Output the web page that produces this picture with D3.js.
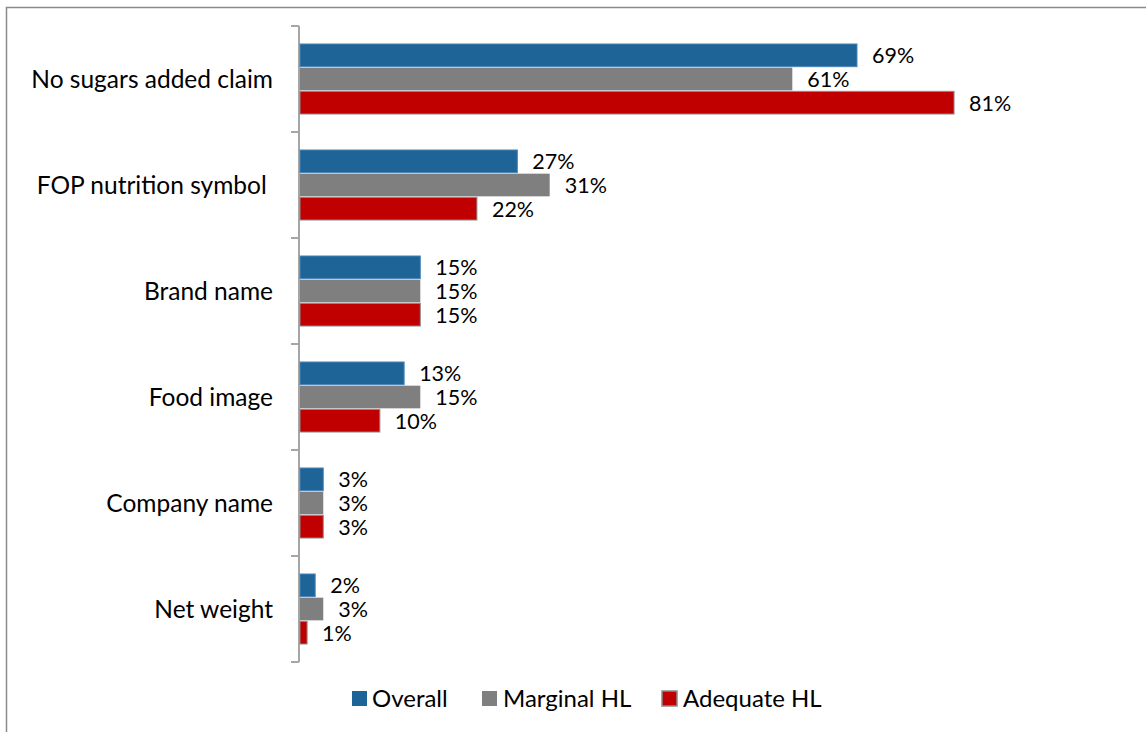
<!DOCTYPE html>
<html>
<head>
<meta charset="utf-8">
<script src="https://cdn.jsdelivr.net/npm/d3@7"></script>
<style>
  html, body { margin: 0; padding: 0; background: #fff; }
  svg { display: block; }
  text { font-family: Lato, "Liberation Sans", sans-serif; fill: #000; }
</style>
</head>
<body>
<svg id="chart" width="1146" height="732"></svg>
<script>
// Categories (top to bottom) and the three series, in percent
const categories = ["No sugars added claim", "FOP nutrition symbol ", "Brand name", "Food image", "Company name", "Net weight"];
const seriesNames = ["Overall", "Marginal HL", "Adequate HL"];
const overall = [69, 27, 15, 13, 3, 2];
const marginalHL = [61, 31, 15, 15, 3, 3];
const adequateHL = [81, 22, 15, 10, 3, 1];

const seriesValues = [overall, marginalHL, adequateHL];
const fills = ["#1F6497", "#7F7F7F", "#C00000"];
const strokes = ["#4A86B8", "#7F7F7F", "#8C8C8C"];

const svg = d3.select("#chart");

// Outer chart frame
svg.append("rect")
  .attr("x", 6.5).attr("y", 7.5)
  .attr("width", 1200).attr("height", 800)
  .attr("fill", "none")
  .attr("stroke", "#8A8A8A")
  .attr("stroke-width", 1.5);

const x0 = 299, yTop = 26, yBottom = 662;

const x = d3.scaleLinear().domain([0, 69]).range([x0, 857]);

const y = d3.scaleBand()
  .domain(categories)
  .range([yTop, yBottom])
  .paddingInner(0.33)
  .paddingOuter(0.165);

const ySub = d3.scaleBand()
  .domain(seriesNames)
  .range([0, y.bandwidth()]);

// Category axis with tick marks between groups
const step = y.step();
const tickYs = d3.range(categories.length + 1).map(i => yTop + i * step);
const axis = svg.append("g").attr("class", "axis");
axis.append("line")
  .attr("x1", x0).attr("x2", x0)
  .attr("y1", yTop).attr("y2", yBottom)
  .attr("stroke", "#A6A6A6").attr("stroke-width", 2);
axis.selectAll("line.tick").data(tickYs).enter().append("line")
  .attr("class", "tick")
  .attr("x1", x0 - 8).attr("x2", x0)
  .attr("y1", d => Math.round(d)).attr("y2", d => Math.round(d))
  .attr("stroke", "#A6A6A6").attr("stroke-width", 2);

axis.selectAll("text.cat").data(categories).enter().append("text")
  .attr("class", "cat")
  .attr("x", 273)
  .attr("y", d => y(d) + y.bandwidth() / 2 + 9)
  .attr("text-anchor", "end")
  .style("font-size", "24.5px")
  .style("white-space", "pre")
  .text(d => d.replace(/ $/, "\u00a0"));

// Bars and value labels
seriesNames.forEach((name, si) => {
  const rows = categories.map((c, i) => ({ c, v: seriesValues[si][i] }));
  const g = svg.append("g").attr("class", "series");
  g.selectAll("rect").data(rows).enter().append("rect")
    .attr("x", x0 + 1)
    .attr("y", d => y(d.c) + ySub(name) + 0.5)
    .attr("width", d => x(d.v) - x0 - 1)
    .attr("height", ySub.bandwidth() - 1)
    .attr("fill", fills[si])
    .attr("stroke", strokes[si])
    .attr("stroke-width", si === 1 ? 0 : 1);
  g.selectAll("text").data(rows).enter().append("text")
    .attr("x", d => x(d.v) + 15)
    .attr("y", d => y(d.c) + ySub(name) + ySub.bandwidth() / 2 + 8)
    .style("font-size", "21.5px")
    .text(d => d.v + "%");
});

// Legend
const legendX = [352, 482, 662];
const legend = svg.append("g").attr("class", "legend");
seriesNames.forEach((name, i) => {
  legend.append("rect")
    .attr("x", legendX[i]).attr("y", 691)
    .attr("width", 15).attr("height", 15)
    .attr("fill", fills[i])
    .attr("stroke", i === 2 ? "#8C8C8C" : "none")
    .attr("stroke-width", 1.5);
  legend.append("text")
    .attr("x", legendX[i] + (i === 0 ? 20 : 21))
    .attr("y", 707)
    .style("font-size", "24px")
    .text(name);
});
</script>
</body>
</html>
